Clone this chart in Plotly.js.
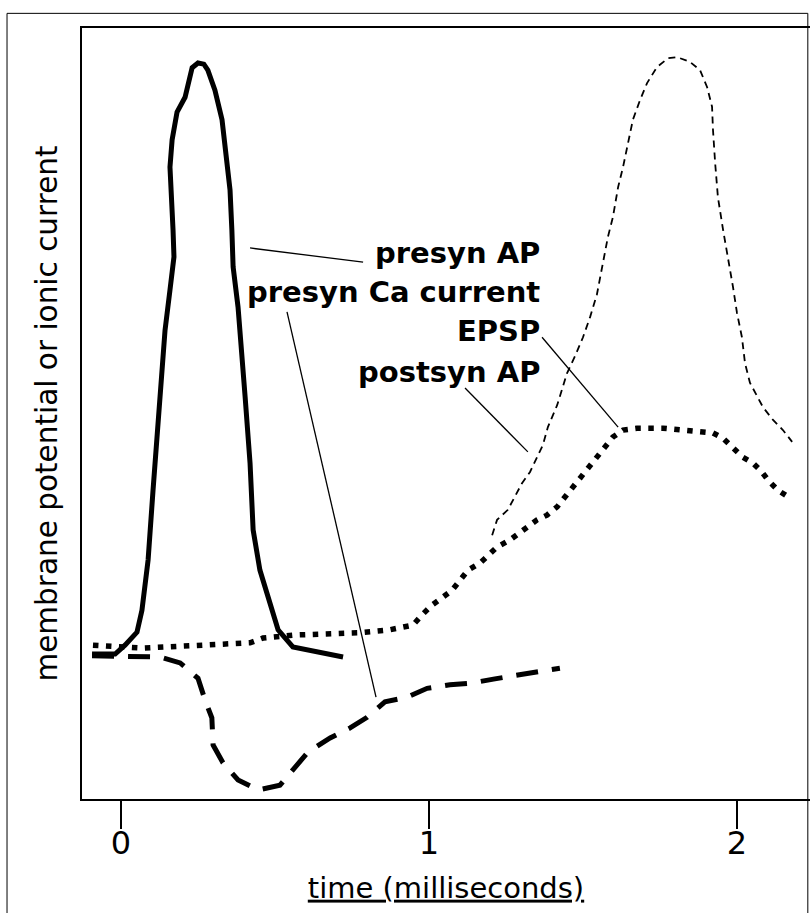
<!DOCTYPE html>
<html>
<head>
<meta charset="utf-8">
<script src="https://cdn.plot.ly/plotly-3.0.1.min.js"></script>
<style>html,body{margin:0;padding:0;background:#fff;}</style>
</head>
<body>
<div id="chart" style="width:810px;height:913px;"></div>
<script>
// time in milliseconds, values in arbitrary units (resting level = 0, presynaptic AP peak = 100)
const apTime = [-0.094,-0.019,0.013,0.052,0.068,0.088,0.104,0.120,0.133,0.143,0.159,0.172,0.169,0.162,0.159,0.166,0.182,0.208,0.231,0.250,0.269,0.282,0.305,0.328,0.338,0.354,0.360,0.364,0.380,0.396,0.403,0.419,0.429,0.451,0.484,0.510,0.558,0.646,0.721];
const apValue = [0,0,1.5,3.7,7.4,15.9,27.7,39.6,48.6,54.8,61.6,67.2,71.7,78.5,82.4,87.0,91.7,94.2,99.2,100,99.8,98.8,95.4,90.4,85.8,78.5,71.7,65.5,58.7,49.7,43.5,32.3,21.0,14.2,8.6,4.1,1.2,0.3,-0.5];

const caTime = [-0.094,0.127,0.192,0.250,0.273,0.295,0.299,0.331,0.380,0.445,0.516,0.565,0.607,0.679,0.744,0.799,0.857,0.929,0.994,1.068,1.140,1.214,1.279,1.354,1.425];
const caValue = [-0.3,-0.5,-1.5,-4.1,-7.8,-10.8,-15.4,-18.4,-21.3,-23.0,-22.2,-19.1,-16.6,-14.2,-12.5,-10.7,-8.1,-7.3,-5.8,-5.2,-4.9,-4.2,-3.6,-3.0,-2.4];

const epspTime = [-0.091,0.071,0.419,0.461,0.558,0.776,0.873,0.929,0.948,0.977,1.010,1.042,1.075,1.101,1.127,1.166,1.198,1.221,1.263,1.318,1.351,1.383,1.416,1.442,1.468,1.490,1.516,1.545,1.565,1.597,1.630,1.675,1.760,1.841,1.922,1.955,1.987,2.019,2.052,2.081,2.101,2.133,2.166];
const epspValue = [1.5,1.0,1.9,2.7,3.2,3.6,4.1,4.6,4.9,6.6,8.3,9.5,10.8,12.5,14.2,15.4,16.8,18.1,19.3,21.5,22.7,23.5,24.9,26.6,28.3,29.9,31.6,33.3,34.9,36.7,37.9,38.2,38.2,37.9,37.4,36.5,35.0,33.3,32.3,30.8,29.4,27.7,26.6];

const postTime = [1.205,1.221,1.256,1.286,1.302,1.328,1.351,1.370,1.386,1.416,1.448,1.475,1.500,1.523,1.545,1.565,1.581,1.597,1.614,1.630,1.646,1.662,1.685,1.708,1.740,1.776,1.805,1.847,1.880,1.903,1.919,1.922,1.929,1.938,1.955,1.971,1.987,2.000,2.016,2.026,2.042,2.084,2.117,2.149,2.179];
const postValue = [20.1,22.7,24.4,27.2,28.9,30.8,33.2,35.4,38.4,42.1,47.5,50.5,53.6,57.0,60.8,66.2,70.6,73.9,79.0,82.4,86.5,90.4,93.7,96.6,99.3,100.8,101.0,100.2,98.8,95.9,92.6,88.7,83.1,77.3,71.7,67.2,62.1,57.7,53.6,49.2,45.9,41.8,39.6,37.9,35.9];

// series labels and their leader lines (label end -> curve)
const labels = ["presyn AP", "presyn Ca current", "EPSP", "postsyn AP"];
const labelValue = [67.9, 61.2, 54.6, 47.8];
const leaderTime = [[0.419, 0.786], [0.539, 0.828], [1.367, 1.614], [1.117, 1.321]];
const leaderValue = [[68.7, 66.3], [57.9, -7.3], [53.6, 38.4], [45.0, 34.2]];

const tickValues = [0, 1, 2];
const tickLabels = ["0", "1", "2"];
const xTitle = "time (milliseconds)";
const yTitle = "membrane potential or ionic current";

const traces = [
  {x: apTime, y: apValue, mode: 'lines', line: {color: '#000', width: 5}},
  {x: caTime, y: caValue, mode: 'lines', line: {color: '#000', width: 5, dash: '22px,14px'}},
  {x: epspTime, y: epspValue, mode: 'lines', line: {color: '#000', width: 5.5, dash: '5.5px,7.5px'}},
  {x: postTime, y: postValue, mode: 'lines', line: {color: '#000', width: 1.8, dash: '7px,5px'}}
];
leaderTime.forEach((lt, i) => {
  traces.push({x: lt, y: leaderValue[i], mode: 'lines', line: {color: '#000', width: 1.3}});
});

const annotations = labels.map((t, i) => ({
  text: '<b>' + t + '</b>', x: 1.368, y: labelValue[i], xref: 'x', yref: 'y',
  xanchor: 'right', yanchor: 'middle', showarrow: false,
  font: {family: 'DejaVu Sans', size: 29, color: '#000'}
}));

const layout = {
  width: 810, height: 913,
  margin: {l: 82, r: 0, t: 28, b: 114, pad: 0},
  paper_bgcolor: '#fff', plot_bgcolor: '#fff',
  showlegend: false,
  font: {family: 'DejaVu Sans', color: '#000'},
  xaxis: {
    range: [-0.1266, 2.237], fixedrange: true,
    tickvals: tickValues, ticktext: tickLabels,
    showgrid: false, zeroline: false,
    showline: true, linecolor: '#000', linewidth: 2, mirror: true,
    ticks: 'outside', ticklen: 28, tickwidth: 2, tickcolor: '#000',
    ticklabelstandoff: -13,
    tickfont: {family: 'DejaVu Sans', size: 32, color: '#000'},
    title: {text: '<span style="text-decoration:underline">' + xTitle + '</span>',
            font: {family: 'DejaVu Sans', size: 29, color: '#000'}, standoff: 16}
  },
  yaxis: {
    range: [-24.53, 105.92], fixedrange: true,
    showgrid: false, zeroline: false,
    showline: true, linecolor: '#000', linewidth: 2, mirror: false,
    ticks: '', showticklabels: false,
    title: {text: yTitle, font: {family: 'DejaVu Sans', size: 29.5, color: '#000'}, standoff: 14}
  },
  annotations: annotations,
  shapes: [{type: 'rect', xref: 'paper', yref: 'paper', x0: -0.103, x1: 0.997, y0: -0.2, y1: 1.019,
            line: {color: '#000', width: 1}, layer: 'below'}]
};

Plotly.newPlot('chart', traces, layout, {displayModeBar: false, staticPlot: true});
</script>
</body>
</html>
